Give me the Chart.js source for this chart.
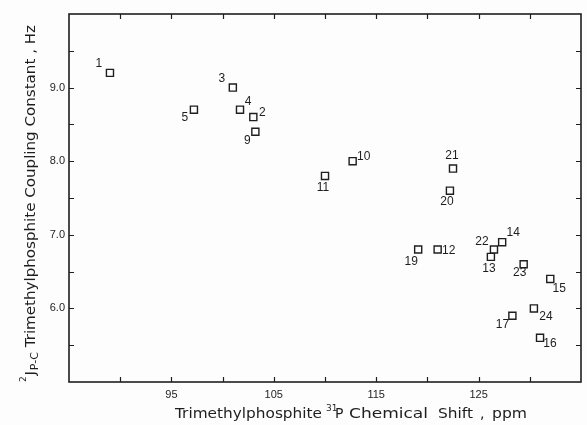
<!DOCTYPE html>
<html>
<head>
<meta charset="utf-8">
<script src="https://cdn.jsdelivr.net/npm/chart.js@4"></script>
<style>
  body { margin: 0; background: #fdfdfd; }
  canvas { display: block; }
</style>
</head>
<body>
<canvas id="couplingChart" width="587" height="425"></canvas>
<script>
// Compound numbers with their 31P shift (ppm) and 2J(P-C) coupling (Hz)
const compoundIds = ['1', '2', '3', '4', '5', '9', '10', '11', '12', '13',
                     '14', '15', '16', '17', '19', '20', '21', '22', '23', '24'];
const shiftPpm = [89.0, 103.0, 101.0, 101.7, 97.2, 103.2, 112.7, 110.0, 121.0, 126.2,
                  127.3, 132.0, 131.0, 128.3, 119.1, 122.2, 122.5, 126.5, 129.4, 130.4];
const couplingHz = [9.2, 8.6, 9.0, 8.7, 8.7, 8.4, 8.0, 7.8, 6.8, 6.7,
                    6.9, 6.4, 5.6, 5.9, 6.8, 7.6, 7.9, 6.8, 6.6, 6.0];

// Tick labels that are printed (other ticks are unlabeled)
const xTickLabels = ['95', '105', '115', '125'];
const yTickLabels = ['6.0', '7.0', '8.0', '9.0'];

// where each number sits relative to its square (px)
const labelOffsets = {
    '1': [-11, -9], '2': [9, -4], '3': [-11, -9], '4': [8, -8], '5': [-9, 8],
    '9': [-8, 9], '10': [11, -5], '11': [-2, 12], '12': [11, 1], '13': [-2, 12],
    '14': [11, -9], '15': [9, 10], '16': [10, 6], '17': [-10, 9], '19': [-7, 12],
    '20': [-3, 11], '21': [-1, -13], '22': [-12, -8], '23': [-4, 8], '24': [12, 8]
};

const ink = '#1e1e1e';
const font = '"Liberation Sans", Arial, sans-serif';
const titleFont = '"DejaVu Sans", sans-serif';

const points = shiftPpm.map((x, i) => ({ x: x, y: couplingHz[i] }));

// draw text squeezed/stretched to an exact width
function fitText(c, text, x, y, width) {
    const w = c.measureText(text).width;
    c.save();
    c.translate(x, y);
    c.scale(width / w, 1);
    c.fillText(text, 0, 0);
    c.restore();
}

// frame with inward ticks on all four sides
const framePlugin = {
    id: 'frame',
    beforeDraw(chart) {
        const c = chart.ctx;
        c.save();
        c.fillStyle = '#fdfdfd';
        c.fillRect(0, 0, chart.width, chart.height);
        c.restore();
    },
    afterDatasetsDraw(chart) {
        const c = chart.ctx;
        const a = chart.chartArea;
        const xs = chart.scales.x, ys = chart.scales.y;
        c.save();
        c.strokeStyle = ink;
        c.lineWidth = 1.6;
        c.strokeRect(a.left, a.top, a.right - a.left, a.bottom - a.top);
        c.lineWidth = 1.2;
        c.beginPath();
        xs.ticks.forEach(t => {
            const px = Math.round(xs.getPixelForValue(t.value)) + 0.5;
            if (px <= a.left + 2 || px >= a.right - 2) return;
            c.moveTo(px, a.bottom); c.lineTo(px, a.bottom - 5);
            c.moveTo(px, a.top); c.lineTo(px, a.top + 5);
        });
        ys.ticks.forEach(t => {
            const py = Math.round(ys.getPixelForValue(t.value)) + 0.5;
            if (py <= a.top + 2 || py >= a.bottom - 2) return;
            c.moveTo(a.left, py); c.lineTo(a.left + 5, py);
            c.moveTo(a.right, py); c.lineTo(a.right - 5, py);
        });
        c.stroke();
        c.restore();
    }
};

// compound numbers next to the squares
const pointLabels = {
    id: 'pointLabels',
    afterDatasetsDraw(chart) {
        const c = chart.ctx;
        const meta = chart.getDatasetMeta(0);
        c.save();
        c.fillStyle = ink;
        c.font = '12px ' + font;
        c.textAlign = 'center';
        c.textBaseline = 'middle';
        meta.data.forEach((el, i) => {
            const id = compoundIds[i];
            const off = labelOffsets[id] || [8, -8];
            c.fillText(id, el.x + off[0], el.y + off[1]);
        });
        c.restore();
    }
};

// axis titles with super/subscripts
const axisTitles = {
    id: 'axisTitles',
    afterDraw(chart) {
        const c = chart.ctx;
        c.save();
        c.fillStyle = ink;
        c.textBaseline = 'alphabetic';

        // x title
        const base = 418;
        c.font = '14px ' + titleFont;
        fitText(c, 'Trimethylphosphite', 175, base, 147);
        c.font = '9px ' + titleFont;
        c.fillText('31', 326, base - 7);
        c.font = '14px ' + titleFont;
        c.fillText('P', 335, base);
        fitText(c, 'Chemical', 349, base, 79);
        fitText(c, 'Shift', 438, base, 35);
        c.fillText(',', 480, base);
        fitText(c, 'ppm', 492, base, 35);

        // y title, rotated, read bottom to top
        c.translate(35, 382);
        c.rotate(-Math.PI / 2);
        let pos = 0;
        c.font = '9px ' + titleFont;
        c.fillText('2', pos, -9);
        pos += c.measureText('2').width + 1;
        c.font = '14px ' + titleFont;
        c.fillText('J', pos, 0);
        pos += c.measureText('J').width + 1;
        c.font = '11px ' + titleFont;
        c.fillText('P-C', pos, 3);
        pos += c.measureText('P-C').width;
        c.font = '14px ' + titleFont;
        fitText(c, ' Trimethylphosphite Coupling Constant , Hz', pos, 0, 357 - pos);
        c.restore();
    }
};

const ctx = document.getElementById('couplingChart').getContext('2d');
const couplingChart = new Chart(ctx, {
    type: 'scatter',
    data: {
        datasets: [{
            data: points,
            pointStyle: 'rect',
            pointRadius: 5,
            pointBorderWidth: 1.4,
            pointBorderColor: ink,
            pointBackgroundColor: '#fdfdfd'
        }]
    },
    options: {
        responsive: false,
        animation: false,
        devicePixelRatio: 1,
        layout: { autoPadding: false, padding: { top: 14, right: 1, left: 0, bottom: 0 } },
        plugins: {
            legend: { display: false },
            tooltip: { enabled: false }
        },
        scales: {
            x: {
                type: 'linear',
                min: 85,
                max: 135,
                grid: { display: false, drawTicks: false, tickLength: 0 },
                border: { display: false },
                afterFit: s => { s.height = 43; },
                ticks: {
                    stepSize: 5,
                    autoSkip: false,
                    maxRotation: 0,
                    padding: 6,
                    color: ink,
                    font: { family: font, size: 11 },
                    callback: v => xTickLabels.includes(String(v)) ? String(v) : ''
                }
            },
            y: {
                min: 5,
                max: 10,
                grid: { display: false, drawTicks: false, tickLength: 0 },
                border: { display: false },
                afterFit: s => { s.width = 69; },
                ticks: {
                    stepSize: 0.5,
                    autoSkip: false,
                    padding: 4,
                    color: ink,
                    font: { family: font, size: 11 },
                    callback: v => {
                        const t = Number(v).toFixed(1);
                        return yTickLabels.includes(t) ? t : '';
                    }
                }
            }
        }
    },
    plugins: [framePlugin, pointLabels, axisTitles]
});
</script>
</body>
</html>
